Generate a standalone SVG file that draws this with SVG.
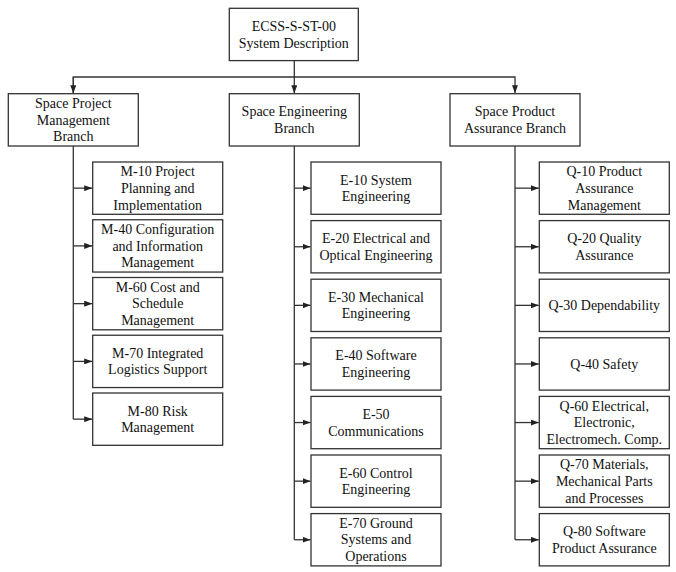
<svg xmlns="http://www.w3.org/2000/svg" width="676" height="572" viewBox="0 0 676 572">
<style>
.box{fill:#fff;stroke:#333;stroke-width:1.3}
.ln{fill:none;stroke:#333;stroke-width:1.3}
text{font-family:"Liberation Serif","Times New Roman",serif;font-size:14px;fill:#111;text-anchor:middle}
</style>
<defs>
<marker id="ah" markerUnits="userSpaceOnUse" markerWidth="8" markerHeight="6" refX="8" refY="3" orient="auto">
<path d="M0,0 L8,3 L0,6 z" fill="#222"/>
</marker>
</defs>
<rect width="676" height="572" fill="#fff"/>
<g id="connectors">
<path class="ln" d="M294.3,60.6 V93.2" marker-end="url(#ah)"/>
<path class="ln" d="M73.3,93.2 V77 H515 V93.2" marker-end="url(#ah)"/>
<path class="ln" d="M73.3,77 V93.2" marker-end="url(#ah)"/>
<path class="ln" d="M73.3,146 V419.15"/>
<path class="ln" d="M294.3,146 V539.75"/>
<path class="ln" d="M515,146 V539.75"/>
<path class="ln" d="M73.3,188.15 H92.2" marker-end="url(#ah)"/>
<path class="ln" d="M73.3,245.9 H92.2" marker-end="url(#ah)"/>
<path class="ln" d="M73.3,303.65 H92.2" marker-end="url(#ah)"/>
<path class="ln" d="M73.3,361.4 H92.2" marker-end="url(#ah)"/>
<path class="ln" d="M73.3,419.15 H92.2" marker-end="url(#ah)"/>
<path class="ln" d="M294.3,188.15 H310.5" marker-end="url(#ah)"/>
<path class="ln" d="M294.3,246.75 H310.5" marker-end="url(#ah)"/>
<path class="ln" d="M294.3,305.35 H310.5" marker-end="url(#ah)"/>
<path class="ln" d="M294.3,363.95 H310.5" marker-end="url(#ah)"/>
<path class="ln" d="M294.3,422.55 H310.5" marker-end="url(#ah)"/>
<path class="ln" d="M294.3,481.15 H310.5" marker-end="url(#ah)"/>
<path class="ln" d="M294.3,539.75 H310.5" marker-end="url(#ah)"/>
<path class="ln" d="M515,188.15 H538.8" marker-end="url(#ah)"/>
<path class="ln" d="M515,246.75 H538.8" marker-end="url(#ah)"/>
<path class="ln" d="M515,305.35 H538.8" marker-end="url(#ah)"/>
<path class="ln" d="M515,363.95 H538.8" marker-end="url(#ah)"/>
<path class="ln" d="M515,422.55 H538.8" marker-end="url(#ah)"/>
<path class="ln" d="M515,481.15 H538.8" marker-end="url(#ah)"/>
<path class="ln" d="M515,539.75 H538.8" marker-end="url(#ah)"/>
</g>
<g id="root"><rect class="box" x="229.3" y="8.3" width="129" height="52.3"/><text x="293.8" y="30.8">ECSS-S-ST-00</text><text x="293.8" y="47.5">System Description</text></g>
<g id="pm"><rect class="box" x="8.3" y="93.7" width="130" height="52.3"/><text x="73.3" y="107.85">Space Project</text><text x="73.3" y="124.55">Management</text><text x="73.3" y="141.25">Branch</text></g>
<g id="eng"><rect class="box" x="229.3" y="93.7" width="130" height="52.3"/><text x="294.3" y="116.2">Space Engineering</text><text x="294.3" y="132.9">Branch</text></g>
<g id="pa"><rect class="box" x="450" y="93.7" width="130" height="52.3"/><text x="515" y="116.2">Space Product</text><text x="515" y="132.9">Assurance Branch</text></g>

<g id="m10"><rect class="box" x="92.7" y="162" width="130" height="52.3"/><text x="157.7" y="176.15">M-10 Project</text><text x="157.7" y="192.85">Planning and</text><text x="157.7" y="209.55">Implementation</text></g>
<g id="m40"><rect class="box" x="92.7" y="219.75" width="130" height="52.3"/><text x="157.7" y="233.9">M-40 Configuration</text><text x="157.7" y="250.6">and Information</text><text x="157.7" y="267.3">Management</text></g>
<g id="m60"><rect class="box" x="92.7" y="277.5" width="130" height="52.3"/><text x="157.7" y="291.65">M-60 Cost and</text><text x="157.7" y="308.35">Schedule</text><text x="157.7" y="325.05">Management</text></g>
<g id="m70"><rect class="box" x="92.7" y="335.25" width="130" height="52.3"/><text x="157.7" y="357.75">M-70 Integrated</text><text x="157.7" y="374.45">Logistics Support</text></g>
<g id="m80"><rect class="box" x="92.7" y="393" width="130" height="52.3"/><text x="157.7" y="415.5">M-80 Risk</text><text x="157.7" y="432.2">Management</text></g>

<g id="e10"><rect class="box" x="311" y="162" width="130" height="52.3"/><text x="376" y="184.5">E-10 System</text><text x="376" y="201.2">Engineering</text></g>
<g id="e20"><rect class="box" x="311" y="220.6" width="130" height="52.3"/><text x="376" y="243.1">E-20 Electrical and</text><text x="376" y="259.8">Optical Engineering</text></g>
<g id="e30"><rect class="box" x="311" y="279.2" width="130" height="52.3"/><text x="376" y="301.7">E-30 Mechanical</text><text x="376" y="318.4">Engineering</text></g>
<g id="e40"><rect class="box" x="311" y="337.8" width="130" height="52.3"/><text x="376" y="360.3">E-40 Software</text><text x="376" y="377">Engineering</text></g>
<g id="e50"><rect class="box" x="311" y="396.4" width="130" height="52.3"/><text x="376" y="418.9">E-50</text><text x="376" y="435.6">Communications</text></g>
<g id="e60"><rect class="box" x="311" y="455" width="130" height="52.3"/><text x="376" y="477.5">E-60 Control</text><text x="376" y="494.2">Engineering</text></g>
<g id="e70"><rect class="box" x="311" y="513.6" width="130" height="52.3"/><text x="376" y="527.75">E-70 Ground</text><text x="376" y="544.45">Systems and</text><text x="376" y="561.15">Operations</text></g>

<g id="q10"><rect class="box" x="539.3" y="162" width="130" height="52.3"/><text x="604.3" y="176.15">Q-10 Product</text><text x="604.3" y="192.85">Assurance</text><text x="604.3" y="209.55">Management</text></g>
<g id="q20"><rect class="box" x="539.3" y="220.6" width="130" height="52.3"/><text x="604.3" y="243.1">Q-20 Quality</text><text x="604.3" y="259.8">Assurance</text></g>
<g id="q30"><rect class="box" x="539.3" y="279.2" width="130" height="52.3"/><text x="604.3" y="310.05">Q-30 Dependability</text></g>
<g id="q40"><rect class="box" x="539.3" y="337.8" width="130" height="52.3"/><text x="604.3" y="368.65">Q-40 Safety</text></g>
<g id="q60"><rect class="box" x="539.3" y="396.4" width="130" height="52.3"/><text x="604.3" y="410.55">Q-60 Electrical,</text><text x="604.3" y="427.25">Electronic,</text><text x="604.3" y="443.95">Electromech. Comp.</text></g>
<g id="q70"><rect class="box" x="539.3" y="455" width="130" height="52.3"/><text x="604.3" y="469.15">Q-70 Materials,</text><text x="604.3" y="485.85">Mechanical Parts</text><text x="604.3" y="502.55">and Processes</text></g>
<g id="q80"><rect class="box" x="539.3" y="513.6" width="130" height="52.3"/><text x="604.3" y="536.1">Q-80 Software</text><text x="604.3" y="552.8">Product Assurance</text></g>
</svg>
